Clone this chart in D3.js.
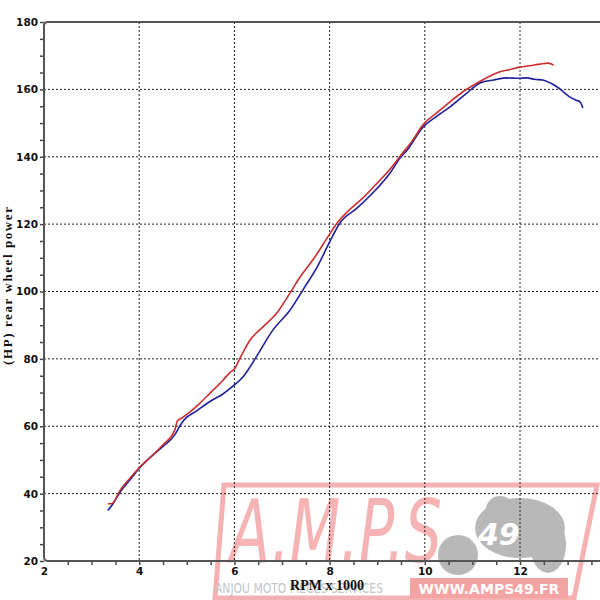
<!DOCTYPE html>
<html><head><meta charset="utf-8">
<script src="https://cdn.jsdelivr.net/npm/d3@7"></script>
<style>body{margin:0;background:#fff}svg{display:block}</style>
</head><body>
<svg id="c" width="600" height="600"></svg>
<script>
const rpmRed=[3.34,3.42,3.6,3.8,4.0,4.25,4.5,4.75,4.8,4.9,5.0,5.25,5.5,5.75,5.91,6.0,6.12,6.33,6.6,6.89,7.17,7.38,7.65,7.99,8.16,8.37,8.7,9.0,9.25,9.5,9.75,9.96,10.25,10.53,10.8,11.1,11.35,11.58,11.8,12.0,12.2,12.42,12.59,12.71];
const hpRed=[37,37,41,44.5,47.7,51,54.5,59,61.5,62.5,63.5,66.5,70,73.5,76,77,80.3,85.6,89.5,93.6,99.6,104.3,109.4,116.8,120.4,123.6,127.8,132.2,136,140.5,145,149.5,153,156.3,159.3,161.9,163.8,165.2,165.9,166.6,167,167.5,167.8,167.2];
const rpmBlue=[3.34,3.45,3.6,3.8,4.0,4.25,4.5,4.75,4.85,4.95,5.2,5.5,5.75,6.0,6.16,6.3,6.47,6.81,7.17,7.44,7.74,7.99,8.22,8.58,8.91,9.27,9.48,9.63,9.96,10.25,10.53,10.85,11.16,11.45,11.73,11.95,12.15,12.3,12.48,12.65,12.78,12.9,13.05,13.18,13.26,13.32];
const hpBlue=[35,37,40.5,44,47.5,51,54,57.5,60,62,64.5,67.5,69.5,72.3,74.3,77,80.8,88.6,94.5,100.5,107.3,114.4,120.4,124.8,129.3,135.2,139.6,142,148.8,152,154.8,158.5,161.9,162.8,163.4,163.3,163.4,163,162.8,161.8,160.7,159.4,157.7,156.8,156.3,154.5];
const xTickLabels=[2,4,6,8,10,12];
const yTickLabels=[20,40,60,80,100,120,140,160,180];
const xGrid=[4,6,8,10,12];
const yGrid=[40,60,80,100,120,140,160];

const svg=d3.select("#c");
const L=44,R=600,T=22,B=561;
const x=d3.scaleLinear().domain([2,13.68]).range([L,R]);
const y=d3.scaleLinear().domain([20,180]).range([B,T]);

// watermark
const wm=svg.append("g");
wm.append("text").attr("x",230).attr("y",562).attr("font-family","DejaVu Sans").attr("font-style","italic")
  .attr("font-size",88).attr("fill","#f6b3b3").attr("textLength",212).attr("lengthAdjust","spacingAndGlyphs").text("A.M.P.S");
wm.append("ellipse").attr("cx",520).attr("cy",528).attr("rx",45).attr("ry",30).attr("fill","#b8b8b8");
wm.append("ellipse").attr("cx",548).attr("cy",545).attr("rx",18).attr("ry",28).attr("fill","#b8b8b8");
wm.append("circle").attr("cx",458).attr("cy",555).attr("r",20).attr("fill","#b8b8b8");
wm.append("circle").attr("cx",500).attr("cy",510).attr("r",14).attr("fill","#b8b8b8");
wm.append("text").attr("x",478).attr("y",545).attr("font-family","DejaVu Sans").attr("font-weight","bold").attr("font-style","italic")
  .attr("font-size",30).attr("fill","#fff").text("49");
wm.append("polygon").attr("points","224,485 597,485 574,598 215,598").attr("fill","none").attr("stroke","#f5b1b1").attr("stroke-width",5);
wm.append("rect").attr("x",410).attr("y",578).attr("width",158).attr("height",20).attr("fill","#f4a3a3");
wm.append("text").attr("x",489).attr("y",594).attr("text-anchor","middle").attr("font-family","DejaVu Sans").attr("font-weight","bold")
  .attr("font-size",14).attr("fill","#fff").text("WWW.AMPS49.FR");
wm.append("text").attr("x",215).attr("y",593).attr("font-family","DejaVu Sans").attr("font-size",14).attr("fill","#c4c4c4")
  .attr("textLength",168).attr("lengthAdjust","spacingAndGlyphs").text("ANJOU MOTO PIECES SERVICES");

// grid
svg.append("g").selectAll("line").data(xGrid).join("line")
  .attr("x1",d=>x(d)).attr("x2",d=>x(d)).attr("y1",T).attr("y2",B)
  .attr("stroke","#222").attr("stroke-width",1).attr("stroke-dasharray","2,2");
svg.append("g").selectAll("line").data(yGrid).join("line")
  .attr("x1",L).attr("x2",R).attr("y1",d=>y(d)).attr("y2",d=>y(d))
  .attr("stroke","#222").attr("stroke-width",1).attr("stroke-dasharray","2,2");

// axes
const yAxis=d3.axisLeft(y).tickValues(d3.range(20,181,5)).tickSize(4).tickFormat(d=>yTickLabels.includes(d)?d:"");
const gy=svg.append("g").attr("transform",`translate(${L},0)`).call(yAxis);
const xAxis=d3.axisBottom(x).tickValues(d3.range(2,13.6,0.5)).tickSize(4).tickFormat(d=>xTickLabels.includes(d)?d:"");
const gx=svg.append("g").attr("transform",`translate(0,${B})`).call(xAxis);
[gx,gy].forEach(g=>{
  g.select(".domain").remove();
  g.selectAll(".tick line").attr("stroke","#444").attr("stroke-width",1.5);
  g.selectAll(".tick text").attr("font-family","DejaVu Sans").attr("font-weight","bold").attr("font-size",10.5).attr("fill","#111");
});
gy.selectAll(".tick text").attr("x",-6);
gx.selectAll(".tick text").attr("y",7);
gx.selectAll(".tick").filter(d=>d===2).select("line").remove();

// frame
const r=4;
svg.append("path").attr("d",`M${R},${T} H${L+r} Q${L},${T} ${L},${T+r} V${B-r} Q${L},${B} ${L+r},${B} H${R}`)
  .attr("fill","none").attr("stroke","#555").attr("stroke-width",2);

// curves
const line=d3.line().x(d=>x(d[0])).y(d=>y(d[1])).curve(d3.curveMonotoneX);
svg.append("path").datum(rpmBlue.map((v,i)=>[v,hpBlue[i]])).attr("d",line)
  .attr("fill","none").attr("stroke","#1f1f9c").attr("stroke-width",1.6);
svg.append("path").datum(rpmRed.map((v,i)=>[v,hpRed[i]])).attr("d",line)
  .attr("fill","none").attr("stroke","#cc2e2e").attr("stroke-width",1.6);

// titles
svg.append("text").attr("x",327).attr("y",590).attr("text-anchor","middle").attr("font-family","Liberation Serif")
  .attr("font-weight","bold").attr("font-size",14).attr("fill","#111").text("RPM x 1000");
svg.append("text").attr("transform","translate(12,286) rotate(-90)").attr("text-anchor","middle").attr("font-family","Liberation Serif")
  .attr("font-weight","bold").attr("font-size",13).attr("fill","#111").attr("textLength",158).attr("lengthAdjust","spacing").text("(HP) rear wheel power");
</script>
</body></html>
